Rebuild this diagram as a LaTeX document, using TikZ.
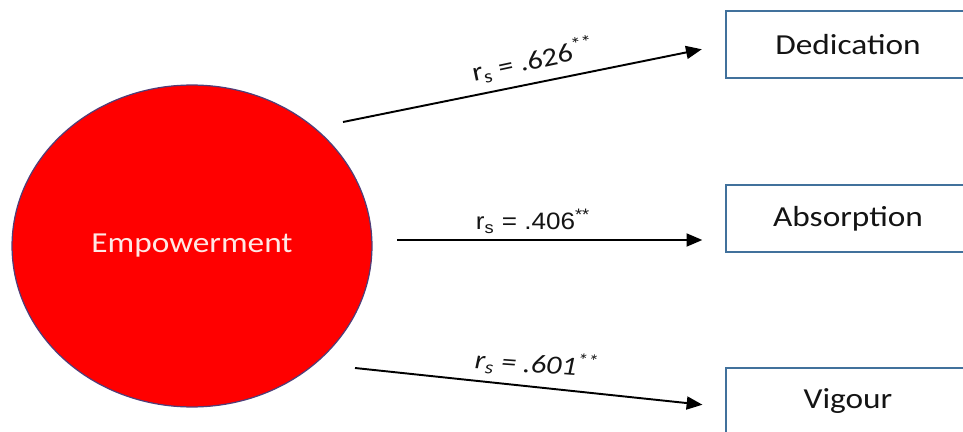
\documentclass[tikz,border=0pt]{standalone}
\usepackage{fontspec}
\setmainfont{Carlito}[FakeStretch=1.15]
\newfontfamily\arialfont{Liberation Sans}[FakeStretch=1.1]
\usepackage{xcolor}
\usetikzlibrary{arrows.meta,positioning,shapes.geometric}
\definecolor{circfill}{RGB}{255,0,0}
\definecolor{circline}{RGB}{80,62,120}
\definecolor{boxline}{RGB}{65,113,156}
\definecolor{boxtext}{RGB}{20,20,20}
\definecolor{circtext}{RGB}{255,232,228}

\begin{document}
\begin{tikzpicture}[
    x=0.02cm, y=-0.02cm,
    construct/.style={ellipse, draw=circline, line width=0.7pt, fill=circfill, minimum width=7.2cm, minimum height=6.44cm, inner sep=0pt, text=circtext, font=\fontsize{16.5}{19}\selectfont},
    outcome/.style={rectangle, draw=boxline, line width=0.8pt, fill=white, minimum width=4.88cm, minimum height=1.34cm, text=boxtext, font=\fontsize{16.5}{19}\selectfont},
    coef/.style={inner sep=1pt, text=boxtext, font=\fontsize{15}{17}\selectfont},
    link/.style={line width=1.1pt, -{Triangle[length=9pt,width=7.4pt]}}
]
\useasboundingbox (0,0) rectangle (963,432);
\clip (0,0) rectangle (963,432);

% Predictor
\node[construct] (emp) at (192,246) {Empowerment};

% Outcome boxes
\node[outcome] (ded) at (848,44.5) {Dedication};
\node[outcome] (abs) at (848,218.5) {Absorption};
\node[outcome] (vig) at (848,401.5) {Vigour};

% Arrow starts
\coordinate (s1) at (343,122);
\coordinate (s2) at (397,240);
\coordinate (s3) at (355,368);

% Arrows
\draw[link, shorten >=0.48cm] (s1) -- (ded.west);
\draw[link, shorten >=0.46cm] (s2) -- (s2 -| abs.west);
\draw[link, shorten >=0.46cm] (s3) -- ([yshift=-3.2pt]vig.west);

% Coefficients
\node[coef, rotate=12] (c1) at (533,60) {r\textsubscript{s} = .626\textsuperscript{**}};
\node[coef, font=\fontsize{13.5}{16}\selectfont\arialfont] (c2) at (533,221) {r\textsubscript{s} = .406\textsuperscript{**}};
\node[coef, rotate=-4] (c3) at (537,364) {\itshape r\textsubscript{s} = .601\textsuperscript{**}};

\end{tikzpicture}
\end{document}
